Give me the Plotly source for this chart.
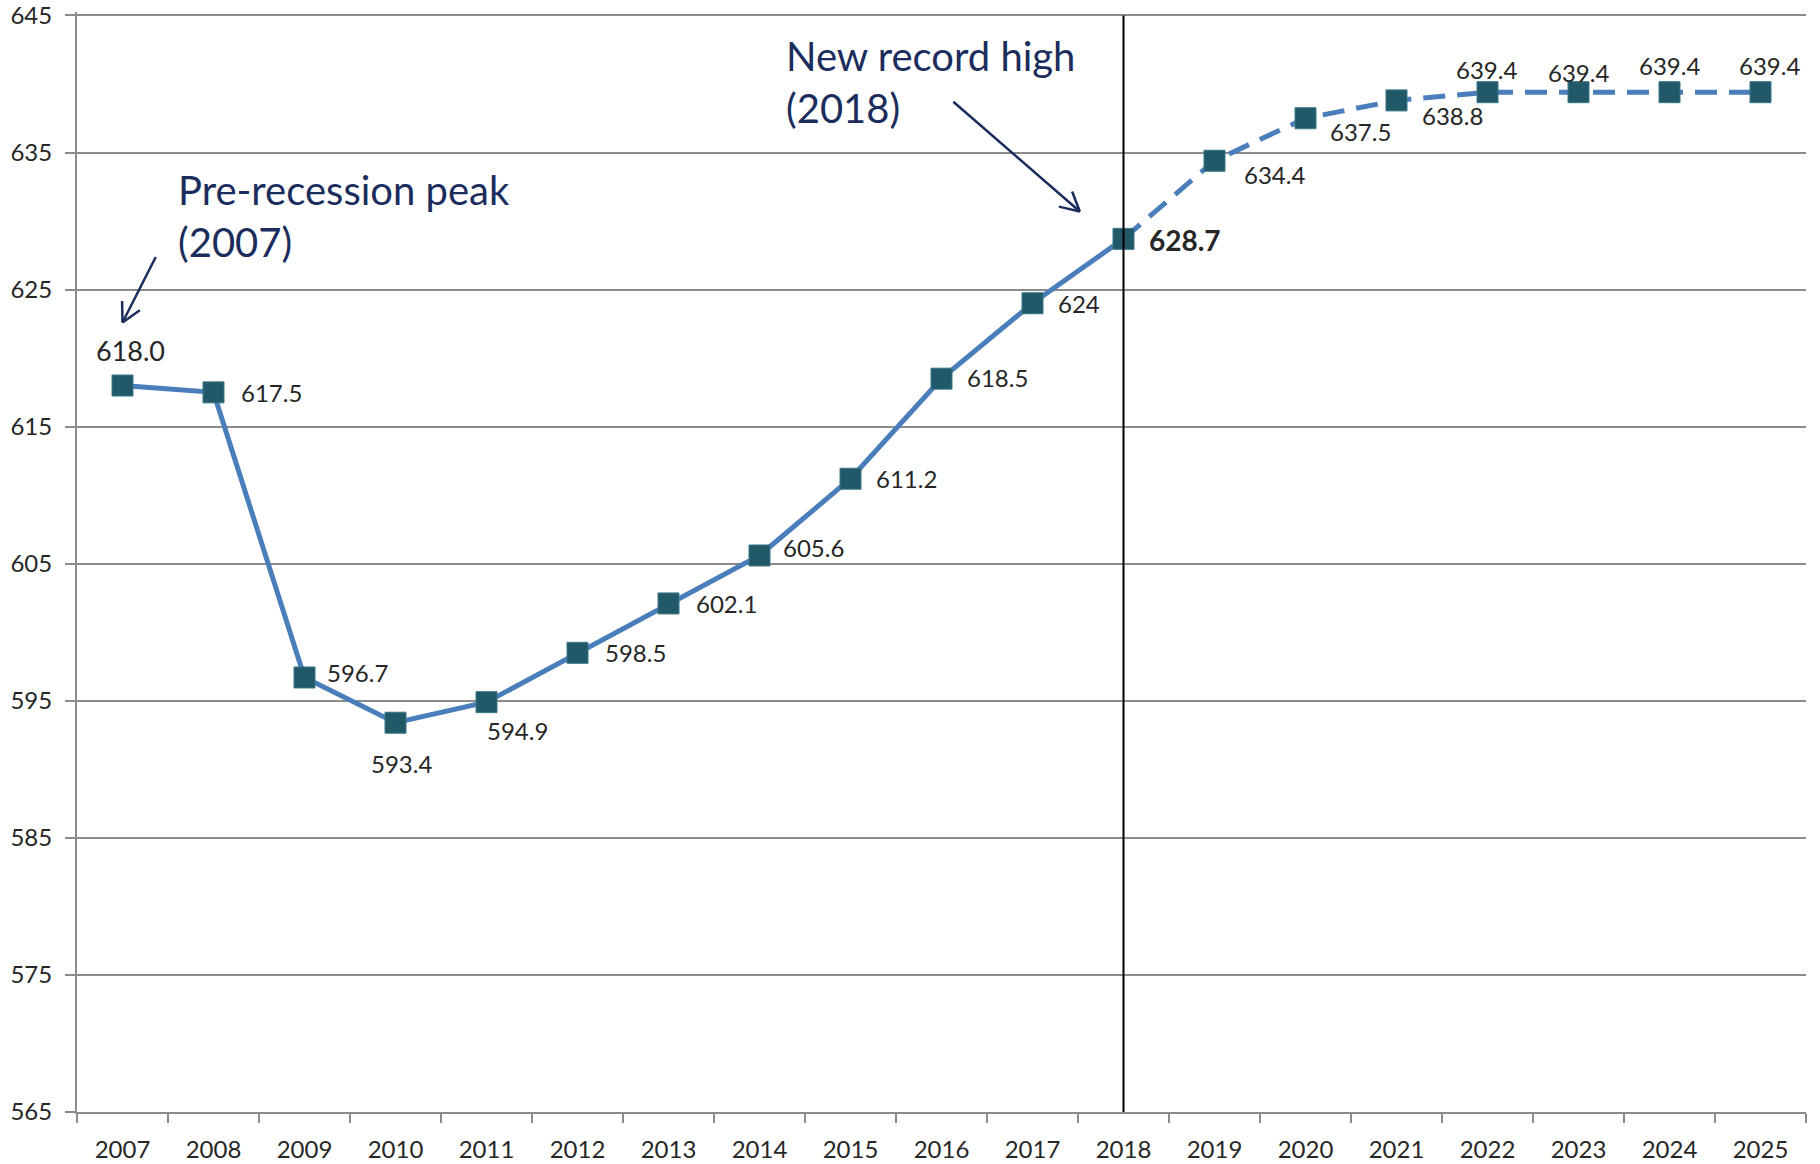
import math
import plotly.graph_objects as go

years = ["2007", "2008", "2009", "2010", "2011", "2012", "2013", "2014", "2015", "2016",
         "2017", "2018", "2019", "2020", "2021", "2022", "2023", "2024", "2025"]
values = [618.0, 617.5, 596.7, 593.4, 594.9, 598.5, 602.1, 605.6, 611.2, 618.5,
          624.0, 628.7, 634.4, 637.5, 638.8, 639.4, 639.4, 639.4, 639.4]
label_texts = ["618.0", "617.5", "596.7", "593.4", "594.9", "598.5", "602.1", "605.6", "611.2", "618.5",
               "624", "628.7", "634.4", "637.5", "638.8", "639.4", "639.4", "639.4", "639.4"]
y_ticks = [565, 575, 585, 595, 605, 615, 625, 635, 645]
last_actual = "2018"
peak_year = "2007"

split = years.index(last_actual)

# label placement (anchor, dx, dy in screen pixels, down positive)
label_pos = [("center", 8, -35), ("left", 25, 0), ("left", 20, -5), ("center", 6, 41),
             ("center", 31, 28), ("left", 25, 0), ("left", 25, 0), ("left", 21, -8),
             ("left", 23, 0), ("left", 23, -1), ("left", 23, 0), ("left", 23, 1),
             ("left", 27, 14), ("left", 22, 13), ("left", 23, 15), ("center", -1, -23),
             ("center", 0, -20), ("center", 0, -27), ("center", 9, -27)]

LINE = "#4A7EBB"
MARK = "#215968"
NAVY = "#1B2D5C"
GRID = "#8C8C8C"
TXT = "#262626"

fig = go.Figure()
fig.add_trace(go.Scatter(x=years[:split + 1], y=values[:split + 1], mode="lines",
                         line=dict(color=LINE, width=5), hoverinfo="skip"))
fig.add_trace(go.Scatter(x=years[split:], y=values[split:], mode="lines",
                         line=dict(color=LINE, width=5, dash="22px,12px"), hoverinfo="skip"))
fig.add_trace(go.Scatter(x=years, y=values, mode="markers",
                         marker=dict(symbol="square", size=21, color=MARK,
                                     line=dict(color="#3A7886", width=1))))

annotations = []
for i, (y, v, t) in enumerate(zip(years, values, label_texts)):
    anc, dx, dy = label_pos[i]
    size = 24
    txt = t
    if y == peak_year:
        size = 27
    if y == last_actual:
        size = 28
        txt = "<b>" + t + "</b>"
    annotations.append(dict(x=i, y=v, xref="x", yref="y", text=txt, showarrow=False,
                            xanchor=anc, yanchor="middle", xshift=dx, yshift=-dy,
                            font=dict(family="Lato", size=size, color=TXT)))

# text annotations
annotations.append(dict(x=0.5835, y=630.37, xref="x", yref="y", xanchor="left", yanchor="middle",
                        align="left", showarrow=False, text="Pre-recession peak<br>(2007)",
                        font=dict(family="Lato", size=40, color=NAVY)))
annotations.append(dict(x=7.274, y=640.18, xref="x", yref="y", xanchor="left", yanchor="middle",
                        align="left", showarrow=False, text="New record high<br>(2018)",
                        font=dict(family="Lato", size=40, color=NAVY)))


def arrow(tipx, tipy, ax, ay):
    out = [dict(x=tipx, y=tipy, xref="x", yref="y", ax=ax, ay=ay, axref="pixel", ayref="pixel",
                text="", showarrow=True, arrowhead=0, arrowwidth=2.5, arrowcolor=NAVY,
                standoff=0, startstandoff=0)]
    L = math.hypot(ax, ay)
    ux, uy = ax / L, ay / L
    for ang in (28, -28):
        a = math.radians(ang)
        rx = ux * math.cos(a) - uy * math.sin(a)
        ry = ux * math.sin(a) + uy * math.cos(a)
        out.append(dict(x=tipx, y=tipy, xref="x", yref="y", ax=rx * 23, ay=ry * 23,
                        text="", showarrow=True, arrowhead=0, arrowwidth=2.5, arrowcolor=NAVY,
                        standoff=0, startstandoff=0))
    return out


annotations += arrow(0, 622.6, 34, -67)
annotations += arrow(10.52, 630.7, -128, -111)

fig.update_layout(
    width=1820, height=1164,
    margin=dict(l=77, r=14, t=12, b=52),
    paper_bgcolor="white", plot_bgcolor="white",
    showlegend=False,
    annotations=annotations,
    shapes=[dict(type="line", xref="x", yref="y", x0=split, x1=split, y0=565, y1=645,
                 line=dict(color="black", width=2), layer="above")],
)
fig.update_xaxes(type="category", categoryorder="array", categoryarray=years,
                 range=[-0.5, len(years) - 0.5], tickson="boundaries", automargin=False,
                 ticks="outside", ticklen=9, tickwidth=2, tickcolor=GRID,
                 showline=True, linecolor=GRID, linewidth=2, showgrid=False,
                 ticklabelstandoff=15, ticklabeloverflow="allow",
                 tickfont=dict(family="Lato", size=24, color=TXT))
fig.update_yaxes(range=[565, 645.25], tickvals=y_ticks, ticks="outside", ticklen=10, tickwidth=2,
                 tickcolor=GRID, showline=True, linecolor=GRID, linewidth=2, automargin=False,
                 showgrid=True, gridcolor=GRID, gridwidth=2, zeroline=False,
                 ticklabelstandoff=8, ticklabeloverflow="allow",
                 tickfont=dict(family="Lato", size=24, color=TXT))

fig.write_html("out.html", config={"displayModeBar": False},
               post_script="document.body.style.margin='0';document.body.style.overflow='hidden';")
